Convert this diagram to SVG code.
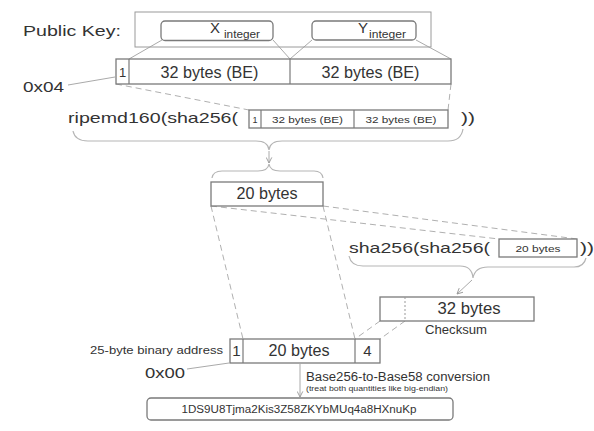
<svg xmlns="http://www.w3.org/2000/svg" width="594" height="431" viewBox="0 0 594 431">
<style>
text{font-family:"Liberation Sans",Arial,sans-serif;fill:#333;}
.box{fill:#fff;stroke:#7a7a7a;stroke-width:1.3;}
.div{stroke:#7a7a7a;stroke-width:1.2;fill:none;}
.thin{stroke:#aaa;stroke-width:1;fill:none;}
.dash{stroke:#b0b0b0;stroke-width:1;fill:none;stroke-dasharray:6,4;}
.brace{stroke:#b5b5b5;stroke-width:1.2;fill:none;}
.m{text-anchor:middle;}
</style>
<defs>
<marker id="ah" viewBox="0 0 10 10" refX="9" refY="5" markerWidth="7" markerHeight="7" orient="auto" markerUnits="userSpaceOnUse">
<path d="M1,1 L9,5 L1,9" fill="none" stroke="#999" stroke-width="1.3"/>
</marker>
</defs>
<rect width="594" height="431" fill="#fff"/>

<g id="connectors">
<line class="thin" x1="162" y1="40" x2="129" y2="59"/>
<line class="thin" x1="273" y1="40" x2="290" y2="59"/>
<line class="thin" x1="312" y1="40" x2="290" y2="59"/>
<line class="thin" x1="416" y1="40" x2="451" y2="59"/>
<line class="thin" x1="68" y1="85" x2="115" y2="77"/>
<line class="dash" x1="116" y1="84" x2="249" y2="110"/>
<line class="dash" x1="451" y1="84" x2="448" y2="110"/>
<path class="brace" d="M73,131 Q75,141 88,141 L256,141 Q268,141 269,150 Q270,141 282,141 L448,141 Q461,141 463,129"/>
<line class="thin" x1="269" y1="151" x2="269" y2="163" marker-end="url(#ah)"/>
<path class="brace" d="M212,178 Q213,171 222,171 L258,171 Q268,171 269,164 Q270,171 280,171 L314,171 Q322,171 323,178"/>
<line class="dash" x1="211" y1="206" x2="499" y2="239"/>
<line class="dash" x1="323" y1="206" x2="577" y2="239"/>
<line class="dash" x1="211" y1="206" x2="243" y2="339"/>
<line class="dash" x1="323" y1="206" x2="355" y2="339"/>
<path class="brace" d="M349,256 Q351,266 363,266 L460,266 Q472,266 473,278 Q475,267 488,267 L574,267 Q584,267 586,258"/>
<line class="thin" x1="472" y1="280" x2="457" y2="294" marker-end="url(#ah)"/>
<line class="dash" x1="380" y1="321" x2="355" y2="339"/>
<line class="dash" x1="405" y1="321" x2="380" y2="339"/>
<line class="thin" x1="187" y1="369" x2="229" y2="363"/>
<line class="thin" x1="300" y1="364" x2="300" y2="397" marker-end="url(#ah)"/>
</g>

<g id="public-key">
<rect x="135" y="12" width="296" height="35" fill="none" stroke="#9a9a9a" stroke-width="1"/>
<text x="23" y="36" font-size="15" textLength="98" lengthAdjust="spacingAndGlyphs">Public Key:</text>
</g>
<g id="x-integer">
<rect class="box" x="161" y="21" width="112" height="19.5" rx="4"/>
<text x="210" y="33" font-size="15">X</text>
<text x="224" y="37.5" font-size="10" textLength="36" lengthAdjust="spacingAndGlyphs">integer</text>
</g>
<g id="y-integer">
<rect class="box" x="312" y="21" width="104" height="19" rx="4"/>
<text x="358" y="33" font-size="15">Y</text>
<text x="369" y="37.5" font-size="10" textLength="37" lengthAdjust="spacingAndGlyphs">integer</text>
</g>

<g id="row-pubkey">
<rect class="box" x="116" y="59" width="335" height="25"/>
<line class="div" x1="129" y1="59" x2="129" y2="84"/>
<line class="div" x1="290" y1="59" x2="290" y2="84"/>
<text class="m" x="122.5" y="77" font-size="13">1</text>
<text class="m" x="209.5" y="78" font-size="16" textLength="98" lengthAdjust="spacingAndGlyphs">32 bytes (BE)</text>
<text class="m" x="370.5" y="78" font-size="16" textLength="98" lengthAdjust="spacingAndGlyphs">32 bytes (BE)</text>
</g>
<g id="label-0x04">
<text x="23" y="92" font-size="15" textLength="41" lengthAdjust="spacingAndGlyphs">0x04</text>
</g>

<g id="ripemd">
<text x="68" y="123" font-size="15" textLength="170" lengthAdjust="spacingAndGlyphs">ripemd160(sha256(</text>
<rect class="box" x="249" y="110" width="199" height="18" stroke-width="1"/>
<line class="div" x1="261" y1="110" x2="261" y2="128" stroke-width="1"/>
<line class="div" x1="354" y1="110" x2="354" y2="128" stroke-width="1"/>
<text class="m" x="255" y="122.5" font-size="9">1</text>
<text class="m" x="307.5" y="122.5" font-size="9.5" textLength="71" lengthAdjust="spacingAndGlyphs">32 bytes (BE)</text>
<text class="m" x="401" y="122.5" font-size="9.5" textLength="71" lengthAdjust="spacingAndGlyphs">32 bytes (BE)</text>
<text x="461" y="123" font-size="15" textLength="14" lengthAdjust="spacingAndGlyphs">))</text>
</g>

<g id="hash160">
<rect class="box" x="211" y="182" width="112" height="24"/>
<text class="m" x="267" y="198.5" font-size="16" textLength="61" lengthAdjust="spacingAndGlyphs">20 bytes</text>
</g>

<g id="sha256">
<text x="349" y="253" font-size="15" textLength="141" lengthAdjust="spacingAndGlyphs">sha256(sha256(</text>
<rect class="box" x="499" y="239" width="78" height="18" stroke-width="1"/>
<text class="m" x="538" y="252" font-size="9.5" textLength="45" lengthAdjust="spacingAndGlyphs">20 bytes</text>
<text x="580" y="253" font-size="15" textLength="14" lengthAdjust="spacingAndGlyphs">))</text>
</g>

<g id="checksum">
<rect class="box" x="380" y="297" width="154" height="24"/>
<line x1="405" y1="297" x2="405" y2="321" stroke="#999" stroke-width="1" stroke-dasharray="2,2"/>
<text class="m" x="469" y="313.5" font-size="16" textLength="63" lengthAdjust="spacingAndGlyphs">32 bytes</text>
<text class="m" x="456" y="333.5" font-size="12" textLength="62" lengthAdjust="spacingAndGlyphs">Checksum</text>
</g>

<g id="binary-address">
<rect class="box" x="230" y="339" width="150" height="24"/>
<line class="div" x1="243" y1="339" x2="243" y2="363"/>
<line class="div" x1="355" y1="339" x2="355" y2="363"/>
<text class="m" x="236.5" y="356" font-size="15">1</text>
<text class="m" x="299" y="356" font-size="16" textLength="61" lengthAdjust="spacingAndGlyphs">20 bytes</text>
<text class="m" x="367.5" y="356" font-size="15">4</text>
<text x="90" y="354" font-size="11" textLength="133" lengthAdjust="spacingAndGlyphs">25-byte binary address</text>
</g>
<g id="label-0x00">
<text x="145" y="377.5" font-size="15" textLength="40" lengthAdjust="spacingAndGlyphs">0x00</text>
</g>

<g id="conversion-label">
<text x="306" y="381" font-size="12.5" textLength="184" lengthAdjust="spacingAndGlyphs">Base256-to-Base58 conversion</text>
<text x="306" y="390.5" font-size="7" textLength="142" lengthAdjust="spacingAndGlyphs">(treat both quantities like big-endian)</text>
</g>

<g id="address">
<rect class="box" x="147" y="398" width="306" height="22" rx="4"/>
<text class="m" x="299" y="412.5" font-size="10" textLength="235" lengthAdjust="spacingAndGlyphs">1DS9U8Tjma2Kis3Z58ZKYbMUq4a8HXnuKp</text>
</g>
</svg>
